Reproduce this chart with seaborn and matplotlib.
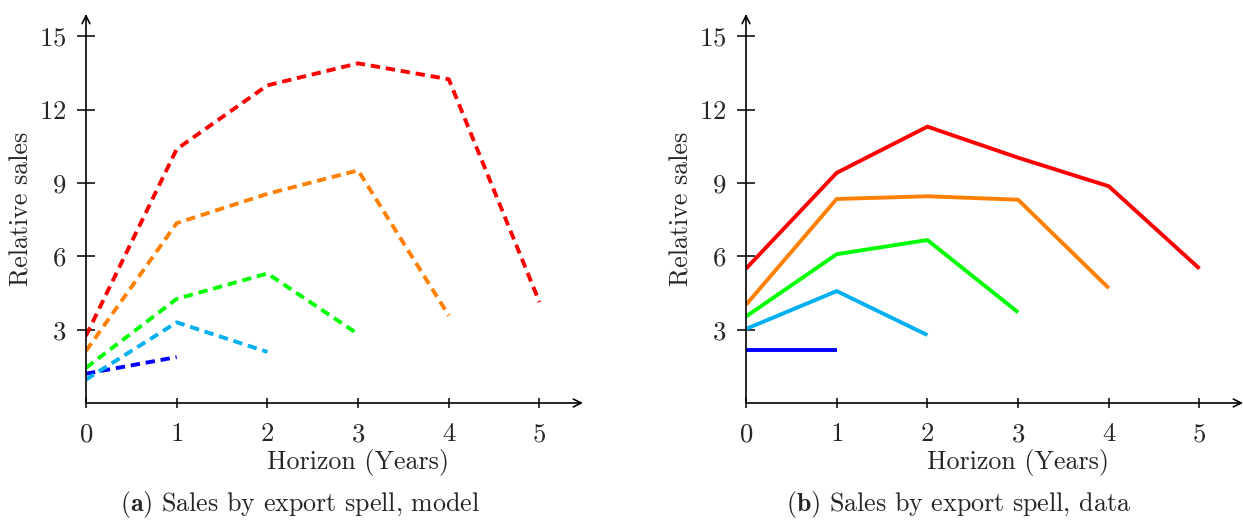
import matplotlib
matplotlib.use("Agg")
import matplotlib.pyplot as plt
import seaborn as sns
import pandas as pd

sns.set_style("white")
plt.rcParams["font.family"] = "serif"
plt.rcParams["font.serif"] = ["cmr10", "DejaVu Serif"]
plt.rcParams["mathtext.fontset"] = "cm"
plt.rcParams["axes.formatter.use_mathtext"] = True

# Relative sales by export spell length (spell = years the firm keeps exporting)
spells = ["1 year", "2 years", "3 years", "4 years", "5 years"]
colors = ["#0000FF", "#00B0F0", "#00FF00", "#FF8000", "#FF0000"]

model_1 = [1.20, 1.88]
model_2 = [0.96, 3.30, 2.09]
model_3 = [1.44, 4.26, 5.30, 2.82]
model_4 = [2.13, 7.36, 8.56, 9.52, 3.58]
model_5 = [2.75, 10.39, 13.00, 13.90, 13.25, 4.13]

data_1 = [2.17, 2.17]
data_2 = [3.03, 4.58, 2.78]
data_3 = [3.54, 6.09, 6.67, 3.71]
data_4 = [4.02, 8.35, 8.46, 8.32, 4.70]
data_5 = [5.50, 9.42, 11.31, 10.04, 8.87, 5.50]

x_ticks = [0, 1, 2, 3, 4, 5]
y_ticks = [3, 6, 9, 12, 15]


def long_form(series):
    rows = []
    for name, vals in zip(spells, series):
        for h, v in enumerate(vals):
            rows.append({"spell": name, "horizon": h, "sales": v})
    return pd.DataFrame(rows)


model_df = long_form([model_1, model_2, model_3, model_4, model_5])
data_df = long_form([data_1, data_2, data_3, data_4, data_5])
palette = dict(zip(spells, colors))

W, H = 1243, 522
fig = plt.figure(figsize=(W / 100, H / 100), dpi=100)
bottom = (H - 403) / H
height = (403 - 14) / H
XMAX = 5.48
ax_a = fig.add_axes([86 / W, bottom, 497 / W, height])
ax_b = fig.add_axes([746 / W, bottom, 497 / W, height])

FS = 18.7
TICK_FS = 19.3


def style_axes(ax, xlabel):
    ax.set_xlim(0, XMAX)
    ax.set_ylim(0, 15.92)
    for s in ax.spines.values():
        s.set_visible(False)
    ax.set_xticks(x_ticks)
    ax.set_yticks(y_ticks)
    ax.tick_params(axis="both", direction="inout", width=1.1,
                   color="black", labelsize=TICK_FS)
    ax.tick_params(axis="x", length=7, pad=10.5, bottom=True)
    ax.tick_params(axis="y", length=12.5, pad=8, left=True)
    ax.set_xlabel(xlabel, fontsize=FS, labelpad=2)
    ax.xaxis.label.set_x(3 / XMAX)
    ax.set_ylabel("Relative sales", fontsize=FS, labelpad=4)
    arrow = dict(arrowstyle="->", lw=1.2, color="black",
                 shrinkA=0, shrinkB=0, mutation_scale=14)
    ax.annotate("", xy=(1, 0), xytext=(0, 0), xycoords="axes fraction",
                arrowprops=arrow, annotation_clip=False)
    ax.annotate("", xy=(0, 1), xytext=(0, 0), xycoords="axes fraction",
                arrowprops=arrow, annotation_clip=False)
    ax.grid(False)


sns.lineplot(data=model_df, x="horizon", y="sales", hue="spell",
             palette=palette, legend=False, ax=ax_a, lw=2.8,
             linestyle=(0, (2.4, 1.5)), dash_capstyle="butt")
sns.lineplot(data=data_df, x="horizon", y="sales", hue="spell",
             palette=palette, legend=False, ax=ax_b, lw=2.8,
             solid_capstyle="butt")

style_axes(ax_a, "Horizon (Years)")
style_axes(ax_b, "Horizon (Years)")

cap_y = 1 - 511 / H
fig.text(300 / W, cap_y, r"$\mathbf{(a)}$ Sales by export spell, model",
         ha="center", va="baseline", fontsize=FS)
fig.text(958 / W, cap_y, r"$\mathbf{(b)}$ Sales by export spell, data",
         ha="center", va="baseline", fontsize=FS)

fig.savefig("out.png", dpi=100)
